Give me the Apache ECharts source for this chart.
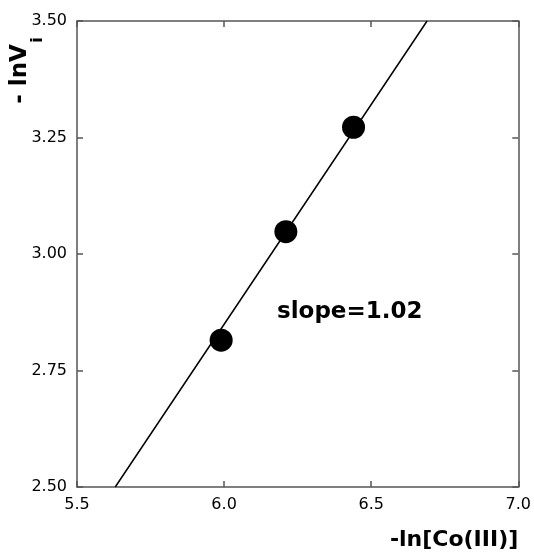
<!DOCTYPE html>
<html>
<head>
<meta charset="utf-8">
<script src="https://cdn.jsdelivr.net/npm/echarts@6/dist/echarts.min.js"></script>
<style>
  html, body { margin: 0; padding: 0; background: #fff; }
  #chart { width: 534px; height: 555px; }
</style>
</head>
<body>
<div id="chart"></div>
<script>
// measured points
const lnCo = [5.99, 6.21, 6.44]
const lnVi = [2.815, 3.048, 3.272]
// ends of the fitted line
const fitX = [5.63, 6.69]
const fitY = [2.5, 3.5]
// axis ranges / tick steps
const xRange = [5.5, 7.0]
const xStep = 0.5
const yRange = [2.5, 3.5]
const yStep = 0.25
const slopeText = 'slope=1.02'

const frameColor = '#555'
const labelFont = 'DejaVu Sans'

function frameAxis(pos, range, step, digits, showLabel) {
  return {
    type: 'value',
    position: pos,
    min: range[0],
    max: range[1],
    interval: step,
    axisLine: { show: true, onZero: false, lineStyle: { color: frameColor, width: 1.5 } },
    axisTick: { show: true, inside: true, length: 6, lineStyle: { color: frameColor, width: 1.5 } },
    axisLabel: {
      show: showLabel,
      margin: 10,
      formatter: v => v.toFixed(digits),
      color: '#000',
      fontSize: 16,
      fontFamily: labelFont
    },
    splitLine: { show: false }
  }
}

const chart = echarts.init(document.getElementById('chart'))

const xBottom = frameAxis('bottom', xRange, xStep, 1, true)
xBottom.name = '-ln[Co(III)]'
xBottom.nameLocation = 'end'
xBottom.nameGap = 0
xBottom.nameTextStyle = {
  align: 'right',
  verticalAlign: 'top',
  padding: [42, 0, 0, 0],
  fontSize: 22,
  fontWeight: 'bold',
  fontFamily: labelFont,
  color: '#000'
}

chart.setOption({
  animation: false,
  backgroundColor: '#fff',
  grid: { left: 77, right: 15, top: 21, bottom: 68, containLabel: false },
  xAxis: [xBottom, frameAxis('top', xRange, xStep, 1, false)],
  yAxis: [frameAxis('left', yRange, yStep, 2, true), frameAxis('right', yRange, yStep, 2, false)],
  graphic: [
    {
      type: 'text',
      x: 20,
      y: 74,
      rotation: Math.PI / 2,
      style: {
        text: '- lnV',
        align: 'center',
        verticalAlign: 'middle',
        fontSize: 23,
        fontWeight: 'bold',
        fontFamily: labelFont,
        fill: '#000'
      }
    },
    {
      type: 'text',
      x: 38,
      y: 40,
      rotation: Math.PI / 2,
      style: {
        text: 'i',
        align: 'center',
        verticalAlign: 'middle',
        fontSize: 16,
        fontWeight: 'bold',
        fontFamily: labelFont,
        fill: '#000'
      }
    },
    {
      type: 'text',
      x: 277,
      y: 312,
      style: {
        text: slopeText,
        align: 'left',
        verticalAlign: 'middle',
        fontSize: 23,
        fontWeight: 'bold',
        fontFamily: labelFont,
        fill: '#000'
      }
    }
  ],
  series: [
    {
      type: 'line',
      data: fitX.map((x, i) => [x, fitY[i]]),
      symbol: 'none',
      lineStyle: { color: '#000', width: 1.5 },
      z: 2
    },
    {
      type: 'scatter',
      data: lnCo.map((x, i) => [x, lnVi[i]]),
      symbol: 'circle',
      symbolSize: 23,
      itemStyle: { color: '#000', opacity: 1 },
      z: 3
    }
  ]
})
</script>
</body>
</html>
